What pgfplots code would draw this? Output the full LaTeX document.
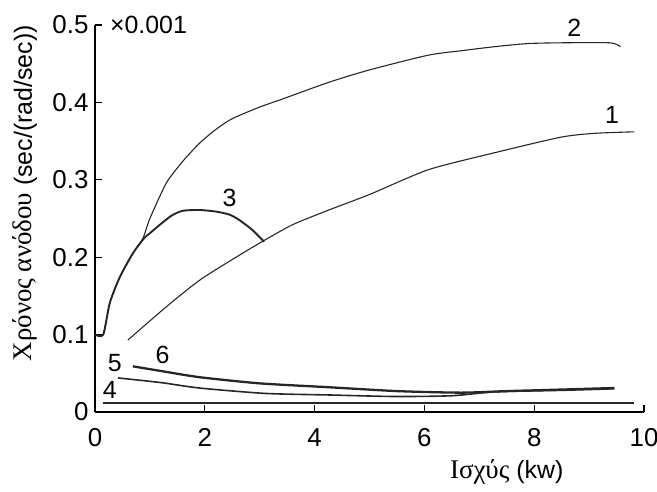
\documentclass[border=0pt]{standalone}
\usepackage{fontspec}
\setmainfont{Liberation Sans}
\newfontfamily\grk{Liberation Serif}
\usepackage{pgfplots}
\pgfplotsset{compat=1.18}
\begin{document}
\fontsize{25}{29}\selectfont
\begin{tikzpicture}
\begin{axis}[
  name=ax,
  scale only axis,
  width=549bp, height=387bp,
  xmin=0, xmax=10, ymin=0, ymax=0.5,
  axis x line=bottom, axis y line=left,
  axis line style={line width=1.4pt, -},
  xtick={0,2,4,6,8,10},
  xticklabels={0,2,4,6,8,10},
  ytick={0,0.1,0.2,0.3,0.4,0.5},
  yticklabels={0,0.1,0.2,0.3,0.4,0.5},
  tick align=inside,
  major tick length=7bp,
  tick style={line width=1.2pt, black},
  tick label style={font=\fontsize{26}{30}\selectfont},
  xticklabel style={yshift=-8bp},
  yticklabel style={xshift=2bp},
  clip=false,
  every axis plot/.append style={black!85, smooth, tension=0.4},
]
% curve 2
\addplot[line width=1.1pt] coordinates {(0,0.1)(0.15,0.1)(0.27,0.141)(0.45,0.174)(0.69,0.205)(0.87,0.224)(1.0,0.250)(1.3,0.296)(1.6,0.324)(1.9,0.347)(2.2,0.365)(2.5,0.379)(3.0,0.394)(3.4,0.404)(4.26,0.426)(5,0.442)(6.07,0.461)(6.7,0.467)(7.28,0.472)(7.88,0.476)(8.5,0.477)(9.38,0.477)(9.57,0.472)};
% curve 3
\addplot[line width=1.9pt] coordinates {(0,0.1)(0.15,0.1)(0.27,0.141)(0.45,0.174)(0.69,0.205)(0.9,0.225)(1.0,0.231)(1.2,0.243)(1.4,0.254)(1.6,0.260)(1.9,0.261)(2.2,0.259)(2.45,0.255)(2.63,0.248)(2.87,0.235)(3.08,0.22)};
% curve 1
\addplot[line width=1.1pt] coordinates {(0.6,0.093)(1.3,0.136)(1.9,0.17)(2.5,0.197)(3.04,0.22)(3.6,0.242)(4.26,0.261)(5,0.281)(6.07,0.313)(7.28,0.335)(8.48,0.355)(9.09,0.360)(9.82,0.362)};
% curve 6
\addplot[line width=2.3pt] coordinates {(0.69,0.059)(1.2,0.053)(1.9,0.045)(3,0.037)(4.26,0.032)(5.5,0.027)(6.67,0.025)(7.5,0.027)(8.5,0.029)(9.46,0.031)};
% curve 5
\addplot[line width=1.6pt] coordinates {(0.42,0.044)(1.2,0.038)(1.9,0.031)(3.1,0.024)(4.26,0.022)(5.47,0.02)(6.5,0.021)(7.28,0.026)(8.5,0.028)(9.46,0.030)};
% curve 4
\addplot[line width=1.7pt, sharp plot] coordinates {(0.15,0.012)(9.82,0.012)};
% curve labels
\node at (axis cs:8.73,0.496) {2};
\node at (axis cs:9.42,0.384) {1};
\node at (axis cs:2.45,0.276) {3};
\node at (axis cs:0.36,0.063) {5};
\node at (axis cs:1.23,0.074) {6};
\node at (axis cs:0.27,0.028) {4};
\node[anchor=west, inner sep=0pt] at (axis description cs:0.027,1) {×0.001};
\node[rotate=90, inner sep=0pt] at (axis description cs:-0.127,0.565) {{\grk\fontsize{27}{31}\selectfont Χρόνος ανόδου} (sec/(rad/sec))};
\node[inner sep=0pt] at (axis description cs:0.75,-0.155) {{\grk\fontsize{27}{31}\selectfont Ισχύς} (kw)};
\end{axis}
\pgfresetboundingbox
\path ([shift={(-95bp,-80bp)}]ax.south west) rectangle ([shift={(13bp,25bp)}]ax.north east);
\end{tikzpicture}
\end{document}
